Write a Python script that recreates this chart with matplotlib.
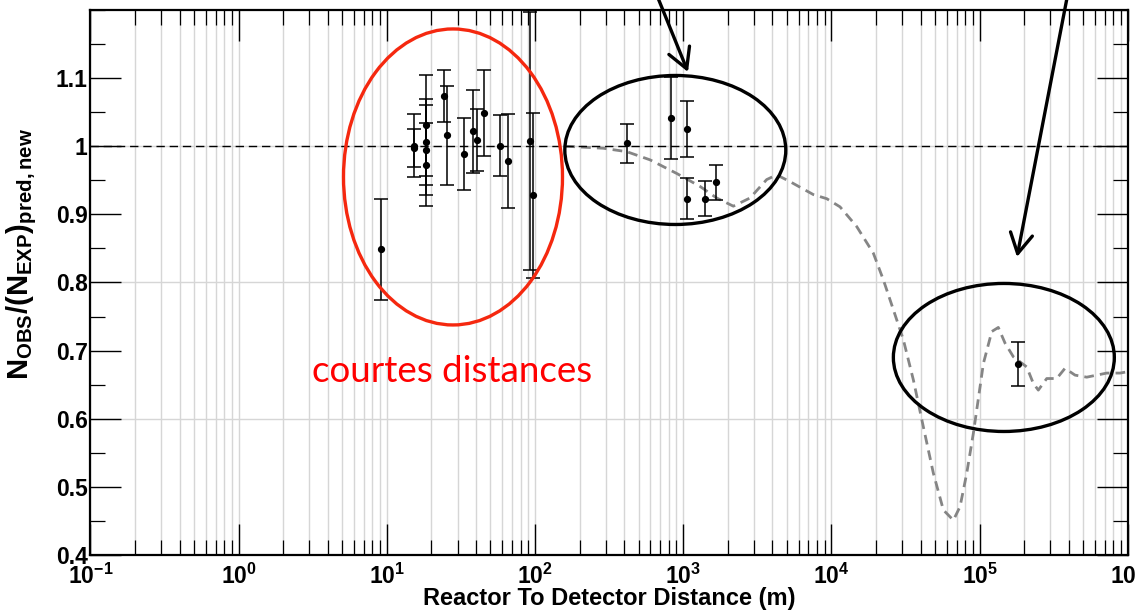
import numpy as np
import matplotlib
matplotlib.use('Agg')
import matplotlib.pyplot as plt
from matplotlib.patches import Ellipse
from matplotlib.ticker import LogLocator, FuncFormatter, MultipleLocator, FixedLocator

plt.rcParams['font.family'] = ['Liberation Sans', 'DejaVu Sans']
plt.rcParams['mathtext.fontset'] = 'custom'
plt.rcParams['mathtext.rm'] = 'Liberation Sans'
plt.rcParams['mathtext.bf'] = 'Liberation Sans:bold'
plt.rcParams['mathtext.it'] = 'Liberation Sans:italic'

# measured reactor experiments: distance (m), observed/expected ratio, error
distance = [9.1, 15.3, 15.3, 18.3, 18.3, 18.3, 18.3, 24.3, 25.4, 33.3, 38.4,
            40.5, 45.5, 57.8, 65.8, 92.9, 96.4, 416, 828, 1062, 1062, 1397,
            1656, 180700]
ratio = [0.849, 1.001, 0.997, 1.031, 1.006, 0.995, 0.973, 1.074, 1.016, 0.989,
         1.022, 1.009, 1.049, 1.001, 0.978, 1.008, 0.928, 1.004, 1.041, 1.025,
         0.923, 0.923, 0.947, 0.680]
error = [0.074, 0.046, 0.028, 0.074, 0.063, 0.066, 0.061, 0.038, 0.073, 0.053,
         0.061, 0.046, 0.063, 0.045, 0.069, 0.189, 0.121, 0.028, 0.060, 0.041,
         0.030, 0.026, 0.026, 0.032]

# three-flavour prediction (grey dashed curve)
curve_x = [160, 289, 416, 597, 904, 1298, 1682, 2178, 2823, 3656, 4272, 5255,
           7553, 9294, 11430, 14820, 19180, 22400, 26180, 30570, 35720, 41720,
           48740, 56930, 66510, 73790, 81860, 90780, 100700, 106000, 120800,
           133700, 148400, 168800, 207800, 230200, 248900, 283700, 331300,
           376700, 440300, 528200, 616700, 720700, 885600, 1000000]
curve_y = [1.0, 0.997, 0.992, 0.980, 0.960, 0.941, 0.924, 0.912, 0.924, 0.951,
           0.958, 0.948, 0.929, 0.923, 0.911, 0.882, 0.843, 0.804, 0.760, 0.716,
           0.657, 0.588, 0.520, 0.466, 0.451, 0.471, 0.520, 0.579, 0.647, 0.681,
           0.728, 0.734, 0.711, 0.691, 0.676, 0.652, 0.642, 0.659, 0.659, 0.674,
           0.664, 0.661, 0.664, 0.667, 0.667, 0.669]

y_ticks = [0.4, 0.5, 0.6, 0.7, 0.8, 0.9, 1.0, 1.1]
y_grid = [0.6, 0.8, 1.0]

fig = plt.figure(figsize=(11.36, 6.15), dpi=100)
ax = fig.add_axes([0.0796, 0.0976, 0.9132, 0.8862])

ax.set_xscale('log')
ax.set_xlim(0.1, 1e6)
ax.set_ylim(0.4, 1.2)

# grid
ax.grid(True, which='both', axis='x', color='#d6d6d6', lw=1.0, zorder=0)
for g in y_grid:
    ax.axhline(g, color='#d6d6d6', lw=1.0, zorder=0)

ax.plot(curve_x, curve_y, color='#858585', lw=2.0, ls=(0, (3.5, 2.2)), zorder=2)
ax.axhline(1.0, color='k', lw=1.0, ls=(0, (6, 3.5)), zorder=3)

ax.errorbar(distance, ratio, yerr=error, fmt='o', color='k', ms=4.2,
            elinewidth=1.1, capsize=5, capthick=1.1, zorder=4)

# ticks
ax.xaxis.set_major_locator(LogLocator(base=10, numticks=20))
ax.xaxis.set_minor_locator(LogLocator(base=10, subs=np.arange(2, 10), numticks=100))
ax.xaxis.set_major_formatter(FuncFormatter(lambda v, p: r'$\mathbf{10^{%d}}$' % round(np.log10(v))))
ax.yaxis.set_major_locator(FixedLocator(y_ticks))
ax.yaxis.set_minor_locator(MultipleLocator(0.05))
ax.yaxis.set_major_formatter(FuncFormatter(lambda v, p: '%g' % v))

ax.tick_params(which='both', direction='in', top=True, right=True, color='k')
ax.tick_params(which='major', length=22, width=1.0)
ax.tick_params(which='minor', length=11, width=0.9)
ax.tick_params(axis='y', which='major', labelsize=16.5, pad=2)
ax.tick_params(axis='x', which='major', labelsize=16.5, pad=6)
for lab in ax.get_yticklabels():
    lab.set_fontweight('bold')

for s in ax.spines.values():
    s.set_linewidth(1.6)
    s.set_zorder(6)

ax.set_xlabel('Reactor To Detector Distance (m)', fontsize=17, fontweight='bold')
ax.xaxis.set_label_coords(0.5, -0.058)
ax.xaxis.label.set_va('top')
ax.set_ylabel(r'$\mathbf{N_{OBS}/(N_{EXP})_{pred,new}}$', fontsize=21)
ax.yaxis.set_label_coords(-0.05, 0.552)

# annotations
ax.add_patch(Ellipse((0.3495, 0.6936), 0.2111, 0.5431, transform=ax.transAxes,
                     fill=False, ec='#f5280f', lw=2.4, zorder=7, clip_on=False))
ax.add_patch(Ellipse((0.5638, 0.7431), 0.2130, 0.2734, transform=ax.transAxes,
                     fill=False, ec='k', lw=2.4, zorder=7, clip_on=False))
ax.add_patch(Ellipse((0.8805, 0.3624), 0.2130, 0.2716, transform=ax.transAxes,
                     fill=False, ec='k', lw=2.4, zorder=7, clip_on=False))

ax.text(0.3489, 0.318, 'courtes distances', transform=ax.transAxes,
        ha='center', va='baseline', color='#ff0000', fontsize=26.5,
        family='Lato', fontweight='normal', zorder=8)

arrow = dict(arrowstyle='->,head_length=0.72,head_width=0.4', lw=2.4,
             color='k', mutation_scale=20, shrinkA=0, shrinkB=0)
ax.annotate('', xy=(688, 543), xytext=(658, 617), xycoords='figure pixels',
            textcoords='figure pixels', arrowprops=arrow, zorder=8)
ax.annotate('', xy=(1017, 358), xytext=(1067, 617), xycoords='figure pixels',
            textcoords='figure pixels', arrowprops=arrow, zorder=8)

fig.savefig('out.png', dpi=100)
